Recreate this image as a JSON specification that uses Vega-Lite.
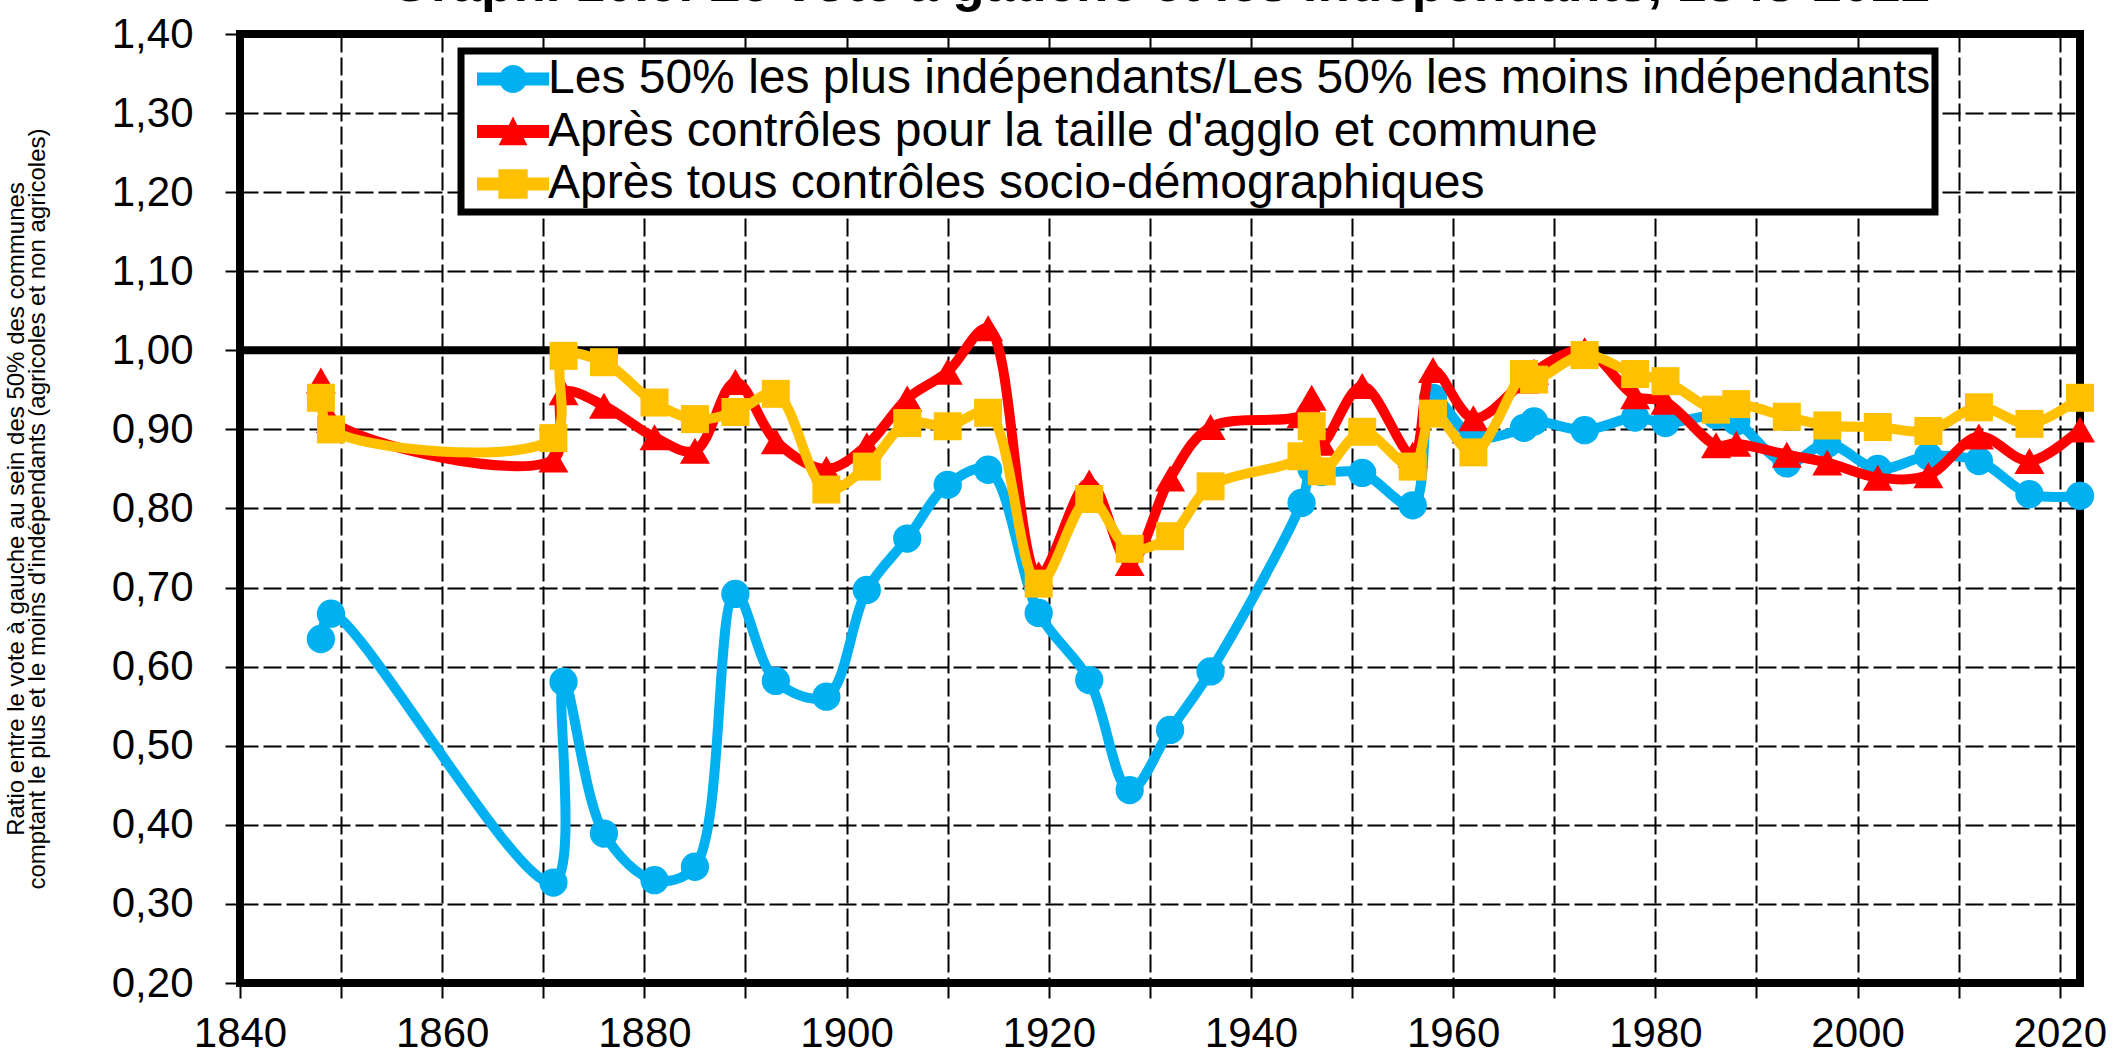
{
  "$schema": "https://vega.github.io/schema/vega-lite/v6.json",
  "width": 1840,
  "height": 949,
  "autosize": {"type": "none"},
  "padding": {"left": 240, "top": 34, "right": 36, "bottom": 78},
  "background": "white",
  "title": {
    "text": "Graph. 10.9. Le vote à gauche et les indépendants, 1848-2022",
    "font": "Liberation Sans",
    "fontSize": 53,
    "fontWeight": "bold",
    "color": "black",
    "anchor": "middle",
    "baseline": "alphabetic",
    "offset": 6,
    "dy": 47
  },
  "config": {
    "view": {"stroke": "black", "strokeWidth": 8},
    "legend": {"strokeWidth": 7, "strokeColor": "black", "fillColor": "white"}
  },
  "datasets": {
    "d": [
      {"year": 1848, "s": "Les 50% les plus indépendants/Les 50% les moins indépendants", "value": 0.635},
      {"year": 1849, "s": "Les 50% les plus indépendants/Les 50% les moins indépendants", "value": 0.667},
      {"year": 1871, "s": "Les 50% les plus indépendants/Les 50% les moins indépendants", "value": 0.327},
      {"year": 1872, "s": "Les 50% les plus indépendants/Les 50% les moins indépendants", "value": 0.581},
      {"year": 1876, "s": "Les 50% les plus indépendants/Les 50% les moins indépendants", "value": 0.389},
      {"year": 1881, "s": "Les 50% les plus indépendants/Les 50% les moins indépendants", "value": 0.330},
      {"year": 1885, "s": "Les 50% les plus indépendants/Les 50% les moins indépendants", "value": 0.347},
      {"year": 1889, "s": "Les 50% les plus indépendants/Les 50% les moins indépendants", "value": 0.692},
      {"year": 1893, "s": "Les 50% les plus indépendants/Les 50% les moins indépendants", "value": 0.582},
      {"year": 1898, "s": "Les 50% les plus indépendants/Les 50% les moins indépendants", "value": 0.562},
      {"year": 1902, "s": "Les 50% les plus indépendants/Les 50% les moins indépendants", "value": 0.697},
      {"year": 1906, "s": "Les 50% les plus indépendants/Les 50% les moins indépendants", "value": 0.762},
      {"year": 1910, "s": "Les 50% les plus indépendants/Les 50% les moins indépendants", "value": 0.830},
      {"year": 1914, "s": "Les 50% les plus indépendants/Les 50% les moins indépendants", "value": 0.849},
      {"year": 1919, "s": "Les 50% les plus indépendants/Les 50% les moins indépendants", "value": 0.668},
      {"year": 1924, "s": "Les 50% les plus indépendants/Les 50% les moins indépendants", "value": 0.583},
      {"year": 1928, "s": "Les 50% les plus indépendants/Les 50% les moins indépendants", "value": 0.444},
      {"year": 1932, "s": "Les 50% les plus indépendants/Les 50% les moins indépendants", "value": 0.520},
      {"year": 1936, "s": "Les 50% les plus indépendants/Les 50% les moins indépendants", "value": 0.594},
      {"year": 1945, "s": "Les 50% les plus indépendants/Les 50% les moins indépendants", "value": 0.807},
      {"year": 1946, "s": "Les 50% les plus indépendants/Les 50% les moins indépendants", "value": 0.850},
      {"year": 1947, "s": "Les 50% les plus indépendants/Les 50% les moins indépendants", "value": 0.846},
      {"year": 1951, "s": "Les 50% les plus indépendants/Les 50% les moins indépendants", "value": 0.845},
      {"year": 1956, "s": "Les 50% les plus indépendants/Les 50% les moins indépendants", "value": 0.804},
      {"year": 1958, "s": "Les 50% les plus indépendants/Les 50% les moins indépendants", "value": 0.940},
      {"year": 1962, "s": "Les 50% les plus indépendants/Les 50% les moins indépendants", "value": 0.890},
      {"year": 1967, "s": "Les 50% les plus indépendants/Les 50% les moins indépendants", "value": 0.902},
      {"year": 1968, "s": "Les 50% les plus indépendants/Les 50% les moins indépendants", "value": 0.910},
      {"year": 1973, "s": "Les 50% les plus indépendants/Les 50% les moins indépendants", "value": 0.899},
      {"year": 1978, "s": "Les 50% les plus indépendants/Les 50% les moins indépendants", "value": 0.915},
      {"year": 1981, "s": "Les 50% les plus indépendants/Les 50% les moins indépendants", "value": 0.908},
      {"year": 1986, "s": "Les 50% les plus indépendants/Les 50% les moins indépendants", "value": 0.918},
      {"year": 1988, "s": "Les 50% les plus indépendants/Les 50% les moins indépendants", "value": 0.910},
      {"year": 1993, "s": "Les 50% les plus indépendants/Les 50% les moins indépendants", "value": 0.857},
      {"year": 1997, "s": "Les 50% les plus indépendants/Les 50% les moins indépendants", "value": 0.882},
      {"year": 2002, "s": "Les 50% les plus indépendants/Les 50% les moins indépendants", "value": 0.850},
      {"year": 2007, "s": "Les 50% les plus indépendants/Les 50% les moins indépendants", "value": 0.866},
      {"year": 2012, "s": "Les 50% les plus indépendants/Les 50% les moins indépendants", "value": 0.860},
      {"year": 2017, "s": "Les 50% les plus indépendants/Les 50% les moins indépendants", "value": 0.818},
      {"year": 2022, "s": "Les 50% les plus indépendants/Les 50% les moins indépendants", "value": 0.816},
      {"year": 1848, "s": "Après contrôles pour la taille d'agglo et commune", "value": 0.962},
      {"year": 1849, "s": "Après contrôles pour la taille d'agglo et commune", "value": 0.912},
      {"year": 1871, "s": "Après contrôles pour la taille d'agglo et commune", "value": 0.862},
      {"year": 1872, "s": "Après contrôles pour la taille d'agglo et commune", "value": 0.947},
      {"year": 1876, "s": "Après contrôles pour la taille d'agglo et commune", "value": 0.930},
      {"year": 1881, "s": "Après contrôles pour la taille d'agglo et commune", "value": 0.890},
      {"year": 1885, "s": "Après contrôles pour la taille d'agglo et commune", "value": 0.873},
      {"year": 1889, "s": "Après contrôles pour la taille d'agglo et commune", "value": 0.960},
      {"year": 1893, "s": "Après contrôles pour la taille d'agglo et commune", "value": 0.885},
      {"year": 1898, "s": "Après contrôles pour la taille d'agglo et commune", "value": 0.850},
      {"year": 1902, "s": "Après contrôles pour la taille d'agglo et commune", "value": 0.880},
      {"year": 1906, "s": "Après contrôles pour la taille d'agglo et commune", "value": 0.939},
      {"year": 1910, "s": "Après contrôles pour la taille d'agglo et commune", "value": 0.973},
      {"year": 1914, "s": "Après contrôles pour la taille d'agglo et commune", "value": 1.028},
      {"year": 1919, "s": "Après contrôles pour la taille d'agglo et commune", "value": 0.717},
      {"year": 1924, "s": "Après contrôles pour la taille d'agglo et commune", "value": 0.833},
      {"year": 1928, "s": "Après contrôles pour la taille d'agglo et commune", "value": 0.731},
      {"year": 1932, "s": "Après contrôles pour la taille d'agglo et commune", "value": 0.838},
      {"year": 1936, "s": "Après contrôles pour la taille d'agglo et commune", "value": 0.903},
      {"year": 1945, "s": "Après contrôles pour la taille d'agglo et commune", "value": 0.918},
      {"year": 1946, "s": "Après contrôles pour la taille d'agglo et commune", "value": 0.940},
      {"year": 1947, "s": "Après contrôles pour la taille d'agglo et commune", "value": 0.883},
      {"year": 1951, "s": "Après contrôles pour la taille d'agglo et commune", "value": 0.955},
      {"year": 1956, "s": "Après contrôles pour la taille d'agglo et commune", "value": 0.868},
      {"year": 1958, "s": "Après contrôles pour la taille d'agglo et commune", "value": 0.975},
      {"year": 1962, "s": "Après contrôles pour la taille d'agglo et commune", "value": 0.914},
      {"year": 1967, "s": "Après contrôles pour la taille d'agglo et commune", "value": 0.962},
      {"year": 1968, "s": "Après contrôles pour la taille d'agglo et commune", "value": 0.973},
      {"year": 1973, "s": "Après contrôles pour la taille d'agglo et commune", "value": 1.000},
      {"year": 1978, "s": "Après contrôles pour la taille d'agglo et commune", "value": 0.942},
      {"year": 1981, "s": "Après contrôles pour la taille d'agglo et commune", "value": 0.935},
      {"year": 1986, "s": "Après contrôles pour la taille d'agglo et commune", "value": 0.880},
      {"year": 1988, "s": "Après contrôles pour la taille d'agglo et commune", "value": 0.882},
      {"year": 1993, "s": "Après contrôles pour la taille d'agglo et commune", "value": 0.868},
      {"year": 1997, "s": "Après contrôles pour la taille d'agglo et commune", "value": 0.858},
      {"year": 2002, "s": "Après contrôles pour la taille d'agglo et commune", "value": 0.839},
      {"year": 2007, "s": "Après contrôles pour la taille d'agglo et commune", "value": 0.842},
      {"year": 2012, "s": "Après contrôles pour la taille d'agglo et commune", "value": 0.891},
      {"year": 2017, "s": "Après contrôles pour la taille d'agglo et commune", "value": 0.860},
      {"year": 2022, "s": "Après contrôles pour la taille d'agglo et commune", "value": 0.900},
      {"year": 1848, "s": "Après tous contrôles socio-démographiques", "value": 0.940},
      {"year": 1849, "s": "Après tous contrôles socio-démographiques", "value": 0.900},
      {"year": 1871, "s": "Après tous contrôles socio-démographiques", "value": 0.889},
      {"year": 1872, "s": "Après tous contrôles socio-démographiques", "value": 0.993},
      {"year": 1876, "s": "Après tous contrôles socio-démographiques", "value": 0.985},
      {"year": 1881, "s": "Après tous contrôles socio-démographiques", "value": 0.934},
      {"year": 1885, "s": "Après tous contrôles socio-démographiques", "value": 0.913},
      {"year": 1889, "s": "Après tous contrôles socio-démographiques", "value": 0.922},
      {"year": 1893, "s": "Après tous contrôles socio-démographiques", "value": 0.945},
      {"year": 1898, "s": "Après tous contrôles socio-démographiques", "value": 0.824},
      {"year": 1902, "s": "Après tous contrôles socio-démographiques", "value": 0.853},
      {"year": 1906, "s": "Après tous contrôles socio-démographiques", "value": 0.908},
      {"year": 1910, "s": "Après tous contrôles socio-démographiques", "value": 0.904},
      {"year": 1914, "s": "Après tous contrôles socio-démographiques", "value": 0.921},
      {"year": 1919, "s": "Après tous contrôles socio-démographiques", "value": 0.705},
      {"year": 1924, "s": "Après tous contrôles socio-démographiques", "value": 0.812},
      {"year": 1928, "s": "Après tous contrôles socio-démographiques", "value": 0.749},
      {"year": 1932, "s": "Après tous contrôles socio-démographiques", "value": 0.765},
      {"year": 1936, "s": "Après tous contrôles socio-démographiques", "value": 0.828},
      {"year": 1945, "s": "Après tous contrôles socio-démographiques", "value": 0.866},
      {"year": 1946, "s": "Après tous contrôles socio-démographiques", "value": 0.904},
      {"year": 1947, "s": "Après tous contrôles socio-démographiques", "value": 0.847},
      {"year": 1951, "s": "Après tous contrôles socio-démographiques", "value": 0.897},
      {"year": 1956, "s": "Après tous contrôles socio-démographiques", "value": 0.853},
      {"year": 1958, "s": "Après tous contrôles socio-démographiques", "value": 0.920},
      {"year": 1962, "s": "Après tous contrôles socio-démographiques", "value": 0.871},
      {"year": 1967, "s": "Après tous contrôles socio-démographiques", "value": 0.970},
      {"year": 1968, "s": "Après tous contrôles socio-démographiques", "value": 0.963},
      {"year": 1973, "s": "Après tous contrôles socio-démographiques", "value": 0.994},
      {"year": 1978, "s": "Après tous contrôles socio-démographiques", "value": 0.970},
      {"year": 1981, "s": "Après tous contrôles socio-démographiques", "value": 0.961},
      {"year": 1986, "s": "Après tous contrôles socio-démographiques", "value": 0.925},
      {"year": 1988, "s": "Après tous contrôles socio-démographiques", "value": 0.932},
      {"year": 1993, "s": "Après tous contrôles socio-démographiques", "value": 0.916},
      {"year": 1997, "s": "Après tous contrôles socio-démographiques", "value": 0.905},
      {"year": 2002, "s": "Après tous contrôles socio-démographiques", "value": 0.903},
      {"year": 2007, "s": "Après tous contrôles socio-démographiques", "value": 0.898},
      {"year": 2012, "s": "Après tous contrôles socio-démographiques", "value": 0.928},
      {"year": 2017, "s": "Après tous contrôles socio-démographiques", "value": 0.907},
      {"year": 2022, "s": "Après tous contrôles socio-démographiques", "value": 0.940}
    ],
    "ref": [{"v": 1.0}]
  },
  "layer": [
    {
      "data": {"name": "ref"},
      "mark": {"type": "rule", "color": "black", "strokeWidth": 8},
      "encoding": {
        "y": {
          "field": "v", "type": "quantitative",
          "scale": {"domain": [0.2, 1.4], "nice": false, "zero": false},
          "axis": {
            "values": [0.2, 0.3, 0.4, 0.5, 0.6, 0.7, 0.8, 0.9, 1.0, 1.1, 1.2, 1.3, 1.4],
            "labelExpr": "replace(format(datum.value, '.2f'), '.', ',')",
            "labelFont": "Liberation Sans", "labelFontSize": 42, "labelColor": "black",
            "labelPadding": 32, "tickSize": 15, "tickWidth": 2, "tickColor": "black",
            "domain": false, "grid": true, "gridColor": "black", "gridWidth": 2, "gridDash": [18, 5], "gridOpacity": 1,
            "title": ["Ratio entre le vote à gauche au sein des 50% des communes", "comptant le plus et le moins d'indépendants (agricoles et non agricoles)"],
            "titleFont": "Liberation Sans", "titleFontSize": 24, "titleFontWeight": "normal", "titleColor": "black",
            "titleLineHeight": 21, "titlePadding": 62
          }
        }
      }
    },
    {
      "data": {"name": "d"},
      "encoding": {
        "x": {
          "field": "year", "type": "quantitative",
          "scale": {"domain": [1840, 2022], "nice": false, "zero": false},
          "axis": {
            "values": [1840, 1850, 1860, 1870, 1880, 1890, 1900, 1910, 1920, 1930, 1940, 1950, 1960, 1970, 1980, 1990, 2000, 2010, 2020],
            "labelExpr": "datum.value % 20 === 0 ? datum.value : ''",
            "labelFont": "Liberation Sans", "labelFontSize": 42, "labelColor": "black",
            "labelPadding": 15, "tickSize": 15, "tickWidth": 2, "tickColor": "black",
            "labelFlush": false, "labelOverlap": false,
            "domain": false, "grid": true, "gridColor": "black", "gridWidth": 2, "gridDash": [18, 5], "gridOpacity": 1,
            "title": null
          }
        },
        "y": {"field": "value", "type": "quantitative"},
        "color": {
          "field": "s", "type": "nominal",
          "scale": {
            "domain": ["Les 50% les plus indépendants/Les 50% les moins indépendants", "Après contrôles pour la taille d'agglo et commune", "Après tous contrôles socio-démographiques"],
            "range": ["#00B0F0", "#FF0000", "#FFC000"]
          },
          "legend": {
            "orient": "none", "legendX": 221, "legendY": 17, "title": null,
            "labelFont": "Liberation Sans", "labelFontSize": 48, "labelColor": "black", "labelLimit": 3000,
            "labelOffset": 11, "symbolOffset": 24, "padding": 4, "rowPadding": 4.5,
            "symbolSize": 2304, "symbolStrokeWidth": 0, "symbolOpacity": 1,
            "symbolType": "M-1.5,-0.27L1.5,-0.27L1.5,0.27L-1.5,0.27Z",
            "fillColor": "white", "strokeColor": "black",
            "encode": {
              "symbols": {
                "update": {
                  "shape": {"signal": "datum.index === 0 ? 'M-1.5,-0.27L1.5,-0.27L1.5,0.27L-1.5,0.27Z M-0.58,0A0.58,0.58 0 1,1 0.58,0A0.58,0.58 0 1,1 -0.58,0Z' : datum.index === 1 ? 'M-1.5,-0.27L1.5,-0.27L1.5,0.27L-1.5,0.27Z M0,-0.62L0.6,0.57L-0.6,0.57Z' : 'M-1.5,-0.27L1.5,-0.27L1.5,0.27L-1.5,0.27Z M-0.61,-0.61L0.61,-0.61L0.61,0.61L-0.61,0.61Z'"},
                  "size": {"value": 2304},
                  "fill": {"scale": "color", "field": "value"},
                  "stroke": {"value": "transparent"},
                  "strokeWidth": {"value": 0},
                  "opacity": {"value": 1}
                }
              }
            }
          }
        }
      },
      "layer": [
        {
          "transform": [{"filter": "indexof(datum.s, 'Les 50%') === 0"}],
          "mark": {"type": "line", "strokeWidth": 10, "interpolate": "catmull-rom"}
        },
        {
          "transform": [{"filter": "indexof(datum.s, 'Les 50%') === 0"}],
          "mark": {"type": "point", "filled": true, "opacity": 1, "shape": "circle", "size": 800, "strokeWidth": 0}
        },
        {
          "transform": [{"filter": "indexof(datum.s, 'taille') > 0"}],
          "mark": {"type": "line", "strokeWidth": 10, "interpolate": "catmull-rom"}
        },
        {
          "transform": [{"filter": "indexof(datum.s, 'taille') > 0"}],
          "mark": {"type": "point", "filled": true, "opacity": 1, "shape": "triangle-up", "size": 900, "strokeWidth": 0}
        },
        {
          "transform": [{"filter": "indexof(datum.s, 'tous') > 0"}],
          "mark": {"type": "line", "strokeWidth": 10, "interpolate": "catmull-rom"}
        },
        {
          "transform": [{"filter": "indexof(datum.s, 'tous') > 0"}],
          "mark": {"type": "point", "filled": true, "opacity": 1, "shape": "square", "size": 784, "strokeWidth": 0}
        }
      ]
    }
  ]
}
